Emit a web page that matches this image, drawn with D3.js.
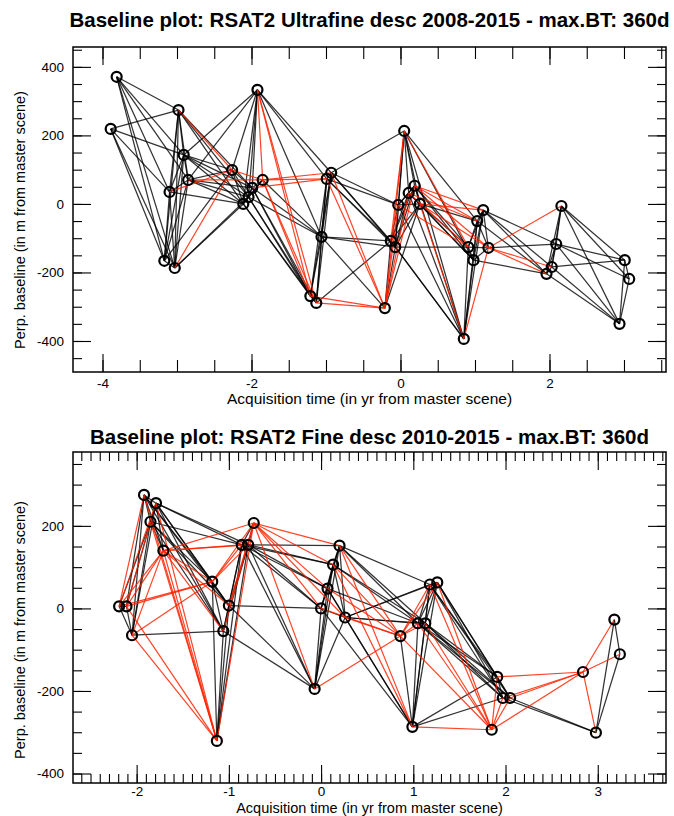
<!DOCTYPE html>
<html><head><meta charset="utf-8">
<script src="https://cdn.jsdelivr.net/npm/d3@7"></script>
<style>body{margin:0;background:#fff}svg{display:block}</style>
</head><body>
<svg id="chart" width="674" height="816"></svg>
<script>
// ---------- Top panel data ----------
const topTitle = "Baseline plot: RSAT2 Ultrafine desc 2008-2015 - max.BT: 360d";
const topTime = [-3.89,-3.81,-3.17,-3.10,-3.03,-2.98,-2.91,-2.85,-2.26,-2.11,-2.04,-1.99,-1.92,-1.85,-1.21,-1.13,-1.06,-0.99,-0.93,-0.21,-0.13,-0.07,-0.03,0.05,0.11,0.19,0.26,0.85,0.91,0.98,1.03,1.11,1.18,1.96,2.03,2.09,2.16,2.94,3.01,3.07];
const topBperp = [219,371,-166,35,-187,274,143,70,99,0,20,47,333,70,-269,-289,-96,73,91,-304,-108,-126,-3,213,32,53,0,-394,-126,-164,-50,-18,-128,-204,-184,-117,-6,-350,-164,-219];
const topBlackLinks = [[0,2],[0,3],[0,4],[0,5],[0,6],[1,2],[1,3],[1,4],[1,5],[1,6],[1,7],[2,3],[2,4],[2,5],[2,6],[2,7],[2,8],[3,4],[3,5],[3,6],[3,7],[3,9],[4,5],[4,6],[4,7],[4,9],[4,10],[5,6],[5,7],[5,9],[5,10],[5,11],[6,7],[6,8],[6,9],[6,10],[6,11],[6,12],[7,8],[7,9],[7,10],[7,11],[7,12],[8,9],[8,10],[8,11],[8,12],[9,10],[9,11],[9,12],[9,13],[9,14],[9,15],[10,11],[10,12],[10,13],[10,14],[10,15],[10,16],[11,12],[11,13],[11,14],[11,15],[11,16],[12,16],[12,17],[12,18],[13,16],[14,15],[14,16],[14,17],[14,18],[15,16],[15,17],[15,18],[15,20],[16,17],[16,18],[16,19],[16,20],[16,21],[17,18],[17,20],[17,21],[17,22],[18,20],[18,21],[18,22],[18,23],[19,20],[19,21],[19,26],[20,21],[20,22],[20,24],[20,25],[20,26],[20,27],[21,22],[21,23],[21,24],[21,25],[21,26],[21,27],[21,28],[22,23],[22,24],[22,25],[22,26],[22,27],[23,24],[23,25],[23,26],[23,27],[23,29],[23,30],[24,25],[24,26],[24,27],[24,29],[25,26],[25,27],[25,28],[25,29],[26,28],[26,29],[26,30],[27,28],[27,29],[27,30],[27,31],[28,29],[28,30],[28,31],[28,32],[29,30],[29,31],[29,32],[29,33],[30,31],[30,32],[30,33],[31,32],[31,33],[31,34],[31,35],[32,35],[33,34],[33,35],[33,36],[33,37],[34,35],[34,36],[34,37],[34,38],[35,36],[35,37],[35,38],[35,39],[36,37],[36,38],[36,39],[37,38],[37,39],[38,39]];
const topRedLinks = [[5,8],[3,8],[4,8],[8,13],[7,13],[12,13],[12,14],[12,15],[13,14],[13,15],[13,17],[13,18],[11,17],[17,19],[18,19],[14,19],[15,19],[19,22],[19,24],[19,25],[19,23],[20,23],[24,30],[24,28],[25,30],[25,31],[25,32],[26,31],[26,32],[22,28],[23,28],[26,27],[27,32],[32,36],[32,34],[32,33]];
const topXTickLabels = [-4,-2,0,2];
const topYTickLabels = [-400,-200,0,200,400];

// ---------- Bottom panel data ----------
const botTitle = "Baseline plot: RSAT2 Fine desc 2010-2015 - max.BT: 360d";
const botTime = [-2.19,-2.11,-2.05,-1.92,-1.85,-1.79,-1.71,-1.18,-1.13,-1.06,-1.00,-0.86,-0.79,-0.73,-0.07,0.00,0.07,0.13,0.20,0.26,0.86,0.99,1.05,1.13,1.18,1.26,1.85,1.91,1.97,2.05,2.84,2.98,3.18,3.24];
const botBperp = [5,5,-65,275,210,255,140,65,-321,-55,7,154,154,207,-195,0,48,106,152,-22,-67,-287,-36,-36,58,63,-294,-166,-217,-217,-154,-301,-27,-111];
const botBlackLinks = [[0,1],[0,2],[0,4],[1,2],[1,3],[1,5],[2,3],[2,4],[2,5],[2,9],[3,4],[3,5],[3,6],[3,7],[3,9],[3,10],[4,5],[4,6],[4,7],[4,9],[4,10],[4,11],[5,6],[5,7],[5,9],[5,10],[5,11],[5,12],[7,8],[7,9],[7,10],[8,9],[8,10],[8,11],[8,12],[9,10],[9,11],[9,12],[9,14],[10,11],[10,12],[10,14],[10,15],[11,12],[11,13],[11,14],[11,15],[11,16],[11,17],[12,13],[12,14],[12,15],[12,16],[12,17],[12,18],[14,15],[14,16],[14,17],[14,18],[14,19],[15,16],[15,17],[15,18],[15,19],[15,21],[16,17],[16,18],[16,19],[16,21],[16,22],[17,18],[17,19],[17,22],[17,23],[18,19],[18,22],[18,23],[18,24],[19,21],[19,22],[19,23],[19,24],[19,25],[20,21],[21,22],[21,23],[21,24],[21,25],[21,27],[21,28],[22,23],[22,24],[22,25],[22,27],[22,28],[22,29],[23,24],[23,25],[23,27],[23,28],[23,29],[24,25],[24,27],[24,28],[24,29],[25,27],[25,28],[25,29],[27,28],[27,29],[28,29],[28,31],[29,31],[31,32],[31,33],[32,33]];
const botRedLinks = [[0,3],[0,5],[0,6],[0,7],[1,4],[1,6],[1,7],[1,8],[2,6],[2,7],[2,8],[3,8],[4,8],[5,8],[6,7],[6,8],[6,9],[6,10],[6,11],[6,12],[6,13],[7,11],[7,12],[7,13],[8,13],[9,13],[10,13],[13,14],[13,15],[13,16],[13,17],[13,18],[13,19],[14,20],[15,20],[16,20],[17,20],[17,21],[18,20],[18,21],[19,20],[20,22],[20,23],[20,24],[20,25],[20,26],[21,26],[22,26],[23,26],[24,26],[25,26],[26,27],[26,28],[26,29],[26,30],[27,30],[28,30],[29,30],[30,31],[30,32],[30,33]];
const botXTickLabels = [-2,-1,0,1,2,3];
const botYTickLabels = [-400,-200,0,200];

const xAxisTitle = "Acquisition time (in yr from master scene)";
const yAxisTitle = "Perp. baseline (in m from master scene)";

const svg = d3.select("#chart");
const FONT = "'Liberation Sans', Arial, Helvetica, sans-serif";

function panel(cfg) {
  const g = svg.append("g");
  const x = d3.scaleLinear().domain(cfg.xDomain).range([cfg.left, cfg.right]);
  const y = d3.scaleLinear().domain(cfg.yDomain).range([cfg.bottom, cfg.top]);

  const lg = g.append("g");
  lg.selectAll("line.b").data(cfg.black).join("line")
    .attr("x1", d => x(cfg.time[d[0]])).attr("y1", d => y(cfg.bperp[d[0]]))
    .attr("x2", d => x(cfg.time[d[1]])).attr("y2", d => y(cfg.bperp[d[1]]))
    .attr("stroke", "#000").attr("stroke-opacity", 0.8).attr("stroke-width", 1.25);
  lg.selectAll("line.r").data(cfg.red).join("line")
    .attr("x1", d => x(cfg.time[d[0]])).attr("y1", d => y(cfg.bperp[d[0]]))
    .attr("x2", d => x(cfg.time[d[1]])).attr("y2", d => y(cfg.bperp[d[1]]))
    .attr("stroke", "#ff2200").attr("stroke-opacity", 0.85).attr("stroke-width", 1.2);

  g.append("g").selectAll("circle").data(cfg.time).join("circle")
    .attr("cx", (d) => x(d)).attr("cy", (d, i) => y(cfg.bperp[i]))
    .attr("r", 5).attr("fill", "none").attr("stroke", "#000").attr("stroke-width", 2.2);

  const axStyle = sel => {
    sel.select(".domain").remove();
    sel.selectAll("line").attr("stroke", "#000").attr("stroke-width", 1.1);
    sel.selectAll("text").attr("font-family", FONT).attr("font-size", 13.5).attr("fill", "#000");
  };
  const fmt = d => d < 0 ? "-" + Math.abs(d) : String(d);
  g.append("g").attr("transform", `translate(0,${cfg.bottom})`)
    .call(d3.axisBottom(x).tickValues(cfg.xMinor).tickSize(-cfg.xMinorLen).tickFormat("")).call(axStyle);
  g.append("g").attr("transform", `translate(0,${cfg.bottom})`)
    .call(d3.axisBottom(x).tickValues(cfg.xTicks).tickSize(-18).tickPadding(cfg.xPad).tickFormat(fmt)).call(axStyle);
  g.append("g").attr("transform", `translate(0,${cfg.top})`)
    .call(d3.axisTop(x).tickValues(cfg.xMinor).tickSize(-cfg.xMinorLen).tickFormat("")).call(axStyle);
  g.append("g").attr("transform", `translate(0,${cfg.top})`)
    .call(d3.axisTop(x).tickValues(cfg.xTicks).tickSize(-18).tickFormat("")).call(axStyle);
  g.append("g").attr("transform", `translate(${cfg.left},0)`)
    .call(d3.axisLeft(y).tickValues(cfg.yMinor).tickSize(-9).tickFormat("")).call(axStyle);
  g.append("g").attr("transform", `translate(${cfg.left},0)`)
    .call(d3.axisLeft(y).tickValues(cfg.yTicks).tickSize(-18).tickPadding(9).tickFormat(fmt)).call(axStyle);
  g.append("g").attr("transform", `translate(${cfg.right},0)`)
    .call(d3.axisRight(y).tickValues(cfg.yMinor).tickSize(-9).tickFormat("")).call(axStyle);
  g.append("g").attr("transform", `translate(${cfg.right},0)`)
    .call(d3.axisRight(y).tickValues(cfg.yTicks).tickSize(-18).tickFormat("")).call(axStyle);

  g.append("rect").attr("x", cfg.left).attr("y", cfg.top)
    .attr("width", cfg.right - cfg.left).attr("height", cfg.bottom - cfg.top)
    .attr("fill", "none").attr("stroke", "#000").attr("stroke-width", 1.5);

  g.append("text").attr("x", (cfg.left + cfg.right) / 2).attr("y", cfg.titleY)
    .attr("text-anchor", "middle").attr("font-family", FONT).attr("font-weight", "bold")
    .attr("font-size", 20.5).text(cfg.title);
  g.append("text").attr("x", (cfg.left + cfg.right) / 2).attr("y", cfg.xTitleY)
    .attr("text-anchor", "middle").attr("font-family", FONT).attr("font-size", cfg.xTitleSize).text(xAxisTitle);
  g.append("text").attr("transform", `translate(25,${cfg.yTitleC}) rotate(-90)`)
    .attr("text-anchor", "middle").attr("font-family", FONT).attr("font-size", 14.5).text(yAxisTitle);
}

panel({
  title: topTitle, time: topTime, bperp: topBperp, black: topBlackLinks, red: topRedLinks,
  xDomain: [-4.396, 3.564], yDomain: [-490.5, 458],
  left: 73, right: 666, top: 47, bottom: 372,
  xTicks: topXTickLabels, xMinor: d3.range(-4, 3.51, 0.5), xMinorLen: 12, xPad: 6,
  yTicks: topYTickLabels, yMinor: d3.range(-450, 451, 50),
  titleY: 27, xTitleY: 404, xTitleSize: 15.5, yTitleC: 220
});
panel({
  title: botTitle, time: botTime, bperp: botBperp, black: botBlackLinks, red: botRedLinks,
  xDomain: [-2.69, 3.74], yDomain: [-423, 379],
  left: 73, right: 666, top: 452, bottom: 783,
  xTicks: botXTickLabels, xMinor: d3.range(-2.6, 3.71, 0.1).map(v => Math.round(v * 10) / 10), xMinorLen: 9, xPad: 3,
  yTicks: botYTickLabels, yMinor: d3.range(-400, 351, 50),
  titleY: 444, xTitleY: 812.5, xTitleSize: 14.5, yTitleC: 630
});
</script>
</body></html>
